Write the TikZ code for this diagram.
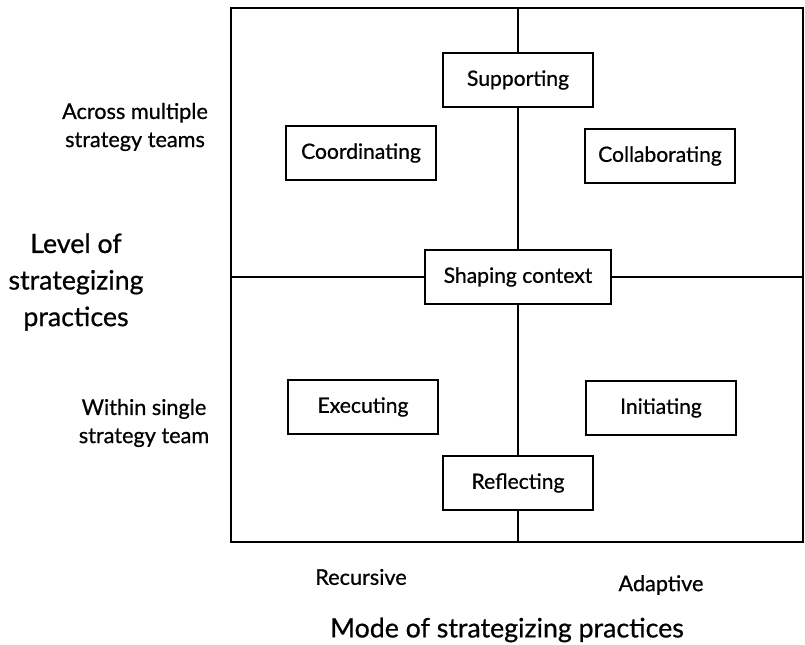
\documentclass[tikz,border=0pt]{standalone}
\usepackage{fontspec}
\setmainfont{Lato}[UprightFeatures={FakeBold=0.7}]
\begin{document}
\begin{tikzpicture}[x=0.025cm, y=-0.025cm, line width=2pt,
    practice/.style={draw, fill=white, minimum width=3.75cm, minimum height=1.35cm,
      inner sep=0pt, font=\fontsize{15}{18}\selectfont},
    levellabel/.style={align=center, font=\fontsize{15.4}{20}\selectfont},
    axistitle/.style={align=center, font=\fontsize{19}{26}\selectfont}]
    \useasboundingbox (0,0) rectangle (805,645);

    % Frame of the four quadrants
    \draw (231,8) rectangle (803,542);
    \coordinate (top) at (518,8);
    \coordinate (bottom) at (518,542);
    \coordinate (left) at (231,277);
    \coordinate (right) at (803,277);

    % Practices
    \node[practice] (supporting) at (518,80) {Supporting};
    \node[practice] (coordinating) at (361,153) {Coordinating};
    \node[practice] (collaborating) at (660,156) {Collaborating};
    \node[practice, minimum width=4.65cm] (shaping) at (518,277) {Shaping context};
    \node[practice] (executing) at (363,407) {Executing};
    \node[practice] (initiating) at (661,408) {Initiating};
    \node[practice] (reflecting) at (518,483) {Reflecting};

    % Axes through the middle
    \draw (top) -- (supporting) -- (shaping) -- (reflecting) -- (bottom);
    \draw (left) -- (shaping) -- (right);

    % Level labels
    \node[levellabel] (across) at (135,127) {Across multiple\\strategy teams};
    \node[levellabel] (within) at (144,423) {Within single\\strategy team};
    \node[axistitle] (level) at (76,282) {Level of\\strategizing\\practices};

    % Mode labels
    \node[levellabel] (recursive) at (361,577) {Recursive};
    \node[levellabel] (adaptive) at (661,585) {Adaptive};
    \node[axistitle] (mode) at (507,630) {Mode of strategizing practices};
\end{tikzpicture}
\end{document}
